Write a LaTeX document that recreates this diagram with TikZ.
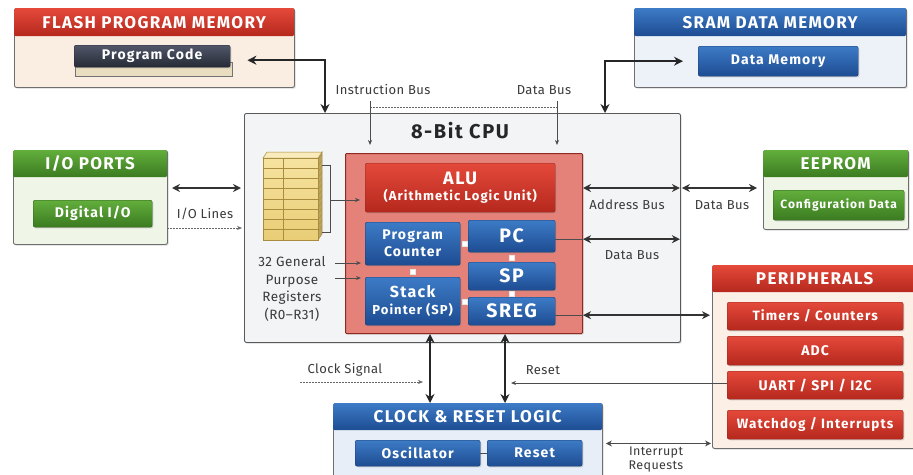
\documentclass[tikz,border=0pt]{standalone}
\usepackage{fontspec}
\setmainfont{Fira Sans}[LetterSpace=8]
\newfontfamily\lblfont{Fira Sans}[LetterSpace=3]
\usetikzlibrary{arrows.meta,shadows,calc}

\definecolor{redA}{HTML}{E4493A}
\definecolor{redB}{HTML}{B5281D}
\definecolor{redD}{HTML}{8E2A22}
\definecolor{blueA}{HTML}{3D7BC6}
\definecolor{blueB}{HTML}{1D4C92}
\definecolor{blueD}{HTML}{1A3C70}
\definecolor{greenA}{HTML}{62AE3C}
\definecolor{greenB}{HTML}{3B7B21}
\definecolor{greenD}{HTML}{2E5E1A}
\definecolor{darkA}{HTML}{52576A}
\definecolor{darkB}{HTML}{262A35}
\definecolor{flashbg}{HTML}{FAEEE3}
\definecolor{srambg}{HTML}{EDF2F9}
\definecolor{greenbg}{HTML}{EFF6E7}
\definecolor{cpubg}{HTML}{F3F4F6}
\definecolor{innerred}{HTML}{E4827A}
\definecolor{periphbg}{HTML}{FCEFE6}
\definecolor{clockbg}{HTML}{E8EEF7}
\definecolor{regA}{HTML}{F6E3A0}
\definecolor{regB}{HTML}{E9CD76}
\definecolor{regL}{HTML}{A98C3E}
\definecolor{labelgray}{HTML}{3A3A3A}
\definecolor{framegray}{HTML}{6E6E6E}
\definecolor{beige}{HTML}{E9DDBF}

\tikzset{
  softshadow/.style={drop shadow={shadow xshift=1.2pt,shadow yshift=-1.2pt,opacity=0.3}},
  panel/.style={draw=framegray, line width=0.9pt, rounded corners=2pt, softshadow, anchor=north west, inner sep=0pt},
  hdr/.style={rounded corners=1.5pt, anchor=north west, inner sep=0pt, text=white,
    font=\bfseries\fontsize{17}{17}\selectfont},
  hdrred/.style={hdr, top color=redA, bottom color=redB},
  hdrblue/.style={hdr, top color=blueA, bottom color=blueB},
  hdrgreen/.style={hdr, top color=greenA, bottom color=greenB},
  btn/.style={rounded corners=2pt, anchor=north west, inner sep=1pt, align=center, text=white,
    font=\bfseries\fontsize{14}{15}\selectfont, softshadow},
  btnred/.style={btn, draw=redD, top color=redA, bottom color=redB},
  btnblue/.style={btn, draw=blueD, top color=blueA, bottom color=blueB},
  btngreen/.style={btn, draw=greenD, top color=greenA, bottom color=greenB},
  btndark/.style={btn, draw=darkB, top color=darkA, bottom color=darkB},
  lbl/.style={text=labelgray, font=\lblfont\fontsize{13}{16}\selectfont, align=center, inner sep=1pt},
  bigbus/.style={line width=2.5pt, draw=black!85, {Stealth[length=9pt,width=9pt]}-{Stealth[length=9pt,width=9pt]}},
  bus/.style={line width=2pt, draw=black!80, {Stealth[length=8pt,width=8pt]}-{Stealth[length=8pt,width=8pt]}},
  wire/.style={line width=0.8pt, draw=black!70},
  dashwire/.style={line width=0.8pt, draw=black!60, dash pattern=on 2pt off 1pt},
  smalltip/.style={-{Stealth[length=5pt,width=4pt]}},
  smalltips/.style={{Stealth[length=6pt,width=6pt]}-{Stealth[length=6pt,width=6pt]}},
  joint/.style={fill=white, draw=white!80!gray, minimum size=5pt, inner sep=0pt}
}

\begin{document}
\begin{tikzpicture}[x=1pt,y=-1pt]
\useasboundingbox (0,0) rectangle (913,474);
\clip (0,0) rectangle (913,474);
\fill[white] (0,0) rectangle (913,474);

% ---------- Flash program memory ----------
\node[panel, fill=flashbg, minimum width=280pt, minimum height=79pt] (flash) at (14,8) {};
\node[hdrred, minimum width=280pt, minimum height=28pt] (flashh) at (flash.north west) {FLASH PROGRAM MEMORY};
\fill[beige, draw=black!55, line width=0.5pt] (75,62) rectangle (232,76);
\node[btndark, minimum width=156pt, minimum height=22pt] (progcode) at (74,45) {Program Code};

% ---------- SRAM data memory ----------
\node[panel, fill=srambg, minimum width=272pt, minimum height=79pt] (sram) at (634,8) {};
\node[hdrblue, minimum width=272pt, minimum height=28pt] (sramh) at (sram.north west) {SRAM DATA MEMORY};
\node[btnblue, minimum width=160pt, minimum height=30pt] (datamem) at (698,46) {Data Memory};

% ---------- I/O ports ----------
\node[panel, fill=greenbg, minimum width=154pt, minimum height=94pt] (io) at (13,150) {};
\node[hdrgreen, minimum width=154pt, minimum height=27pt] (ioh) at (io.north west) {I/O PORTS};
\node[btngreen, minimum width=119pt, minimum height=27pt] (dio) at (33,200) {Digital I/O};

% ---------- EEPROM ----------
\node[panel, fill=greenbg, minimum width=145pt, minimum height=79pt] (eeprom) at (763,150) {};
\node[hdrgreen, minimum width=145pt, minimum height=27pt] (eeph) at (eeprom.north west) {EEPROM};
\node[btngreen, minimum width=131pt, minimum height=30pt, inner sep=0pt, font=\bfseries\fontsize{12}{13}\selectfont] (cfg) at (773,190) {Configuration Data};

% ---------- CPU ----------
\node[panel, fill=cpubg, draw=black!65, minimum width=436pt, minimum height=229pt] (cpu) at (244,113) {};
\node[text=black!85, font=\bfseries\fontsize{20}{20}\selectfont] (cputitle) at (460,131) {8-Bit CPU};
\node[panel, fill=innerred, draw=redD, line width=1pt, rounded corners=1pt, minimum width=237pt, minimum height=180pt] (inner) at (345,153) {};

\node[btnred, minimum width=190pt, minimum height=49pt, font=\bfseries\fontsize{13}{16}\selectfont] (alu) at (365,163)
  {{\fontsize{18}{18}\selectfont ALU}\\(Arithmetic Logic Unit)};
\node[btnblue, minimum width=95pt, minimum height=43pt, font=\bfseries\fontsize{14}{17}\selectfont] (pcnt) at (365,222) {Program\\Counter};
\node[btnblue, minimum width=87pt, minimum height=32pt, font=\bfseries\fontsize{19.5}{19.5}\selectfont] (pc) at (468,220) {PC};
\node[btnblue, minimum width=87pt, minimum height=28pt, font=\bfseries\fontsize{19.5}{19.5}\selectfont] (sp) at (468,262) {SP};
\node[btnblue, minimum width=95pt, minimum height=48pt, font=\bfseries\fontsize{13}{17}\selectfont] (stk) at (365,277)
  {{\fontsize{16}{16}\selectfont Stack}\\Pointer (SP)};
\node[btnblue, minimum width=87pt, minimum height=28pt, font=\bfseries\fontsize{19.5}{19.5}\selectfont] (sreg) at (468,297) {SREG};

% small joints between the register blocks
\node[joint] (j1) at ($(pcnt.east)!0.5!(pcnt.east -| pc.west)$) {};
\node[joint] (j2) at ($(pc.south)!0.5!(sp.north)$) {};
\node[joint] (j3) at ($(pcnt.south)!0.5!(stk.north)$) {};
\node[joint] (j4) at ($(sp.south)!0.5!(sreg.north)$) {};
\node[joint] (j5) at ($(stk.east)!0.5!(stk.east -| sreg.west)$) {};

% general purpose register file
\node[inner sep=0pt, minimum width=59pt, minimum height=88pt, anchor=north west] (regs) at (263,152) {};
\fill[regB!80!black, draw=regL, line width=0.5pt] (318,158) -- (322,152) -- (322,234) -- (318,240) -- cycle;
\foreach \k in {0,...,12} \draw[regL, line width=0.4pt] (318,{160+\k*6}) -- (322,{154+\k*6});
\fill[regA!70!white, draw=regL, line width=0.5pt] (263,158) -- (267,152) -- (322,152) -- (318,158) -- cycle;
\shade[top color=regA, bottom color=regB, draw=regL, line width=0.6pt] (263,158) rectangle (318,240);
\foreach \k in {1,...,7} \draw[regL, line width=0.6pt] (263,{158+\k*10.25}) -- (318,{158+\k*10.25});
\draw[regL, line width=0.6pt] (283,158) -- (283,240);
\node[lbl, font=\lblfont\fontsize{13.5}{17.5}\selectfont] (reglbl) at (292,289) {32 General\\Purpose\\Registers\\(R0–R31)};

% register file to ALU
\coordinate (bA) at (322,165);
\coordinate (bC) at (322,232);
\coordinate (bM) at (330,200);
\draw[wire, line width=0.6pt] (bA) -- ++(8,0) |- (bC);
\draw[wire, smalltip] (bM) -- ([xshift=-5pt]alu.west |- bM);

% short feeds into program counter and stack pointer
\coordinate (fA) at (335,263);
\coordinate (fB) at (335,278);
\draw[wire, smalltip] (fA) -- ([xshift=-4pt]fA -| pcnt.west);
\draw[wire, smalltip] (fB) -- ([xshift=-4pt]fB -| stk.west);

% ---------- Peripherals ----------
\node[panel, fill=periphbg, minimum width=205pt, minimum height=183pt] (periph) at (712,265) {};
\node[hdrred, minimum width=205pt, minimum height=27pt] (periphh) at (periph.north west) {PERIPHERALS};
\node[btnred, minimum width=176pt, minimum height=28pt, font=\bfseries\fontsize{13.5}{14}\selectfont] (tim) at (727,302) {Timers / Counters};
\node[btnred, minimum width=176pt, minimum height=29pt] (adc) at (727,336) {ADC};
\node[btnred, minimum width=176pt, minimum height=28pt] (uart) at (727,371) {UART / SPI / I2C};
\node[btnred, minimum width=176pt, minimum height=29pt, font=\bfseries\fontsize{13.5}{14}\selectfont] (wdg) at (727,410) {Watchdog / Interrupts};

% ---------- Clock & reset logic ----------
\node[panel, fill=clockbg, minimum width=269pt, minimum height=80pt] (clk) at (333,403) {};
\node[hdrblue, minimum width=269pt, minimum height=27pt] (clkh) at (clk.north west) {CLOCK \& RESET LOGIC};
\node[btnblue, minimum width=125pt, minimum height=26pt] (osc) at (355,440) {Oscillator};
\node[btnblue, minimum width=95pt, minimum height=26pt] (rst) at (487,440) {Reset};
\draw[wire, line width=0.5pt] (osc.east) -- (rst.west);

% ---------- Memory buses ----------
\draw[bigbus] ([xshift=17pt,yshift=-4pt]progcode.east) -| ([xshift=81pt]cpu.north west);
\draw[bigbus] ([xshift=-15pt]datamem.west) -| ([xshift=361pt]cpu.north west);

\node[lbl] (ibus) at (383,90) {Instruction Bus};
\node[lbl] (dbustop) at (544,90) {Data Bus};
\coordinate (iA) at (370,101);
\coordinate (iB) at (557,101);
\coordinate (iJ) at (370,107);
\draw[dashwire] (iJ) -- (iJ -| iB);
\draw[wire, line width=0.6pt, smalltip] (iA) -- ([yshift=-44pt]iA);
\draw[wire, line width=0.6pt, smalltip] (iB) -- ([yshift=-44pt]iB);

% ---------- I/O lines ----------
\coordinate (ioA) at (172,188);
\coordinate (ioB) at (167,228);
\draw[bus, line width=2.2pt] (ioA) -- ([xshift=-3pt]ioA -| cpu.west);
\node[lbl] (iolbl) at (205,214) {I/O Lines};
\draw[dashwire, smalltip] (ioB) -- ([xshift=-2pt]ioB -| cpu.west);

% ---------- Right side buses ----------
\coordinate (abA) at (583,188);
\draw[bus] (abA) -- ([xshift=-1pt]abA -| cpu.east);
\draw[bus] ([xshift=1pt]abA -| cpu.east) -- ([xshift=-6pt]abA -| eeprom.west);
\node[lbl] (ablbl) at (627,205) {Address Bus};
\node[lbl] (dblbl) at (722,205) {Data Bus};

\draw[wire] ([yshift=-3pt]pc.east) -- ([yshift=-3pt]pc.east -| inner.east);
\draw[bus] ([yshift=-3pt]pc.east -| inner.east) -- ([xshift=-1pt,yshift=-3pt]pc.east -| cpu.east);
\node[lbl] (dblbl2) at (632,255) {Data Bus};

\draw[wire] ([yshift=-4pt]sreg.east) -- ([yshift=-4pt]sreg.east -| inner.east);
\draw[bus] ([yshift=-4pt]sreg.east -| inner.east) -- ([xshift=-2pt,yshift=-4pt]sreg.east -| periph.west);

% ---------- Clock and reset connections ----------
\draw[bigbus] ([xshift=97pt]clk.north west) -- ([xshift=97pt]clk.north west |- inner.south);
\draw[bigbus] ([xshift=172pt]clk.north west) -- ([xshift=172pt]clk.north west |- inner.south);

\node[lbl] (clklbl) at (345,370) {Clock Signal};
\coordinate (csA) at (300,382);
\coordinate (csB) at (423,382);
\draw[dashwire, smalltip] (csA) -- (csB);

\node[lbl] (rstlbl) at (543,370) {Reset};
\coordinate (rsB) at (511,383);
\draw[wire, smalltip] (rsB -| uart.west) -- (rsB);

\draw[wire, smalltips] ([xshift=3pt]clk.east) -- ([xshift=-1pt]clk.east -| periph.west);
\node[lbl, anchor=north, font=\lblfont\fontsize{12.5}{13.5}\selectfont] (irq) at (656,446) {Interrupt\\Requests};

\end{tikzpicture}
\end{document}
